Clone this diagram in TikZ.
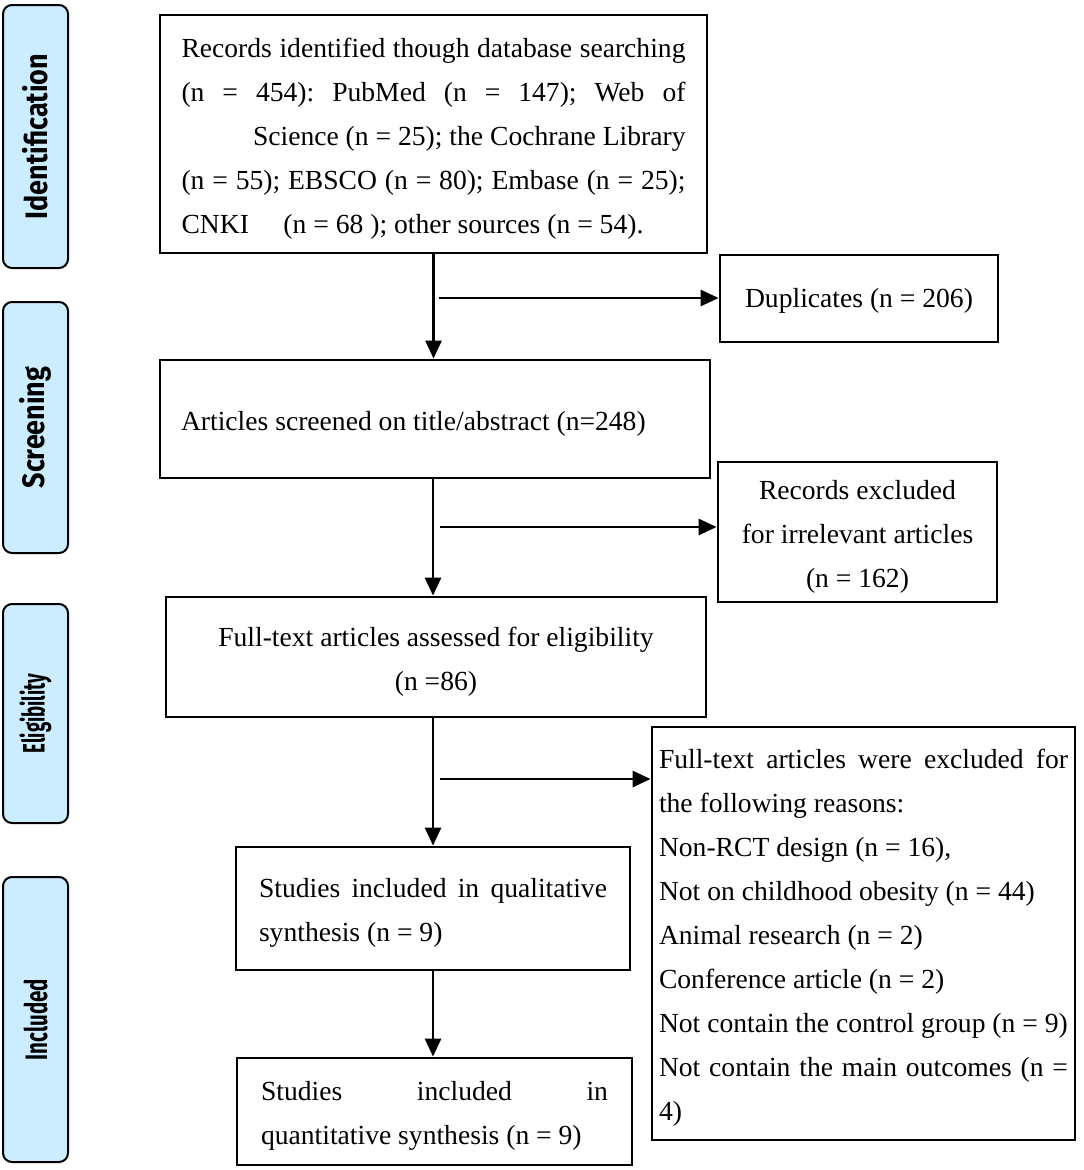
\documentclass[tikz,border=0pt]{standalone}
\usepackage{fontspec}
\setmainfont{Liberation Serif}
\newfontfamily\sidefont{Fira Sans}
\usetikzlibrary{arrows.meta}
\definecolor{sideblue}{RGB}{204,236,255}
\newcommand{\jl}[1]{\makebox[\linewidth][s]{#1}}
\newcommand{\rl}[1]{\makebox[\linewidth][r]{#1}}
\newcommand{\nb}[1]{\mbox{#1}}
\begin{document}
\begin{tikzpicture}[x=1pt,y=-1pt,
 box/.style={draw, line width=2.8pt, inner sep=0pt},
 txt/.style={inner sep=0pt, font=\fontsize{27.6}{44}\selectfont, yshift=-4.5pt,
   execute at begin node={\spaceskip=0pt\xspaceskip=0pt\frenchspacing}},
 side/.style={draw, line width=2pt, fill=sideblue, rounded corners=9pt, inner sep=0pt},
 sidetext/.style={rotate=90, inner sep=0pt, font=\sidefont\bfseries\fontsize{31}{31}\selectfont},
 arr/.style={line width=2.8pt, -{Triangle[length=18pt,width=16pt]}}
]
\useasboundingbox (0,0) rectangle (1084,1170);
\fill[white] (0,0) rectangle (1084,1170);

% side labels
\node[side, minimum width=65, minimum height=263] (s1) at (35.5,136.5) {};
\node[sidetext] (t1) at (s1.center) {\scalebox{0.87}[1]{Identification}};
\node[side, minimum width=65, minimum height=251] (s2) at (35.5,427.5) {};
\node[sidetext] (t2) at (s2.center) {\scalebox{0.87}[1]{Screening}};
\node[side, minimum width=65, minimum height=219] (s3) at (35.5,713.5) {};
\node[sidetext] (t3) at (s3.center) {\scalebox{0.6}[1]{Eligibility}};
\node[side, minimum width=65, minimum height=285] (s4) at (35.5,1019.5) {};
\node[sidetext] (t4) at (s4.center) {\scalebox{0.66}[1]{Included}};

% boxes
\node[box, minimum width=547, minimum height=238] (b1) at (433.5,134) {};
\node[txt, text width=504, align=justify] (b1t) at (b1.center)
 {\jl{Records identified though database searching}\\
  \jl{(n = 454): PubMed (n = 147); Web of}\\
  \rl{Science (n = 25); the Cochrane Library}\\
  \jl{(n = 55); EBSCO (n = 80); Embase (n = 25);}\\
  \nb{CNKI\hspace{1.25em}(n = 68 ); other sources (n = 54).}};
\node[box, minimum width=278, minimum height=87] (dup) at (859,298.5) {};
\node[txt, yshift=2pt] (dupt) at (dup.center) {Duplicates (n = 206)};
\node[box, minimum width=550, minimum height=118] (b2) at (435,419) {};
\node[txt, text width=508, align=justify] (b2t) at (b2.center)
 {\nb{Articles screened on title/abstract (n=248)}};
\node[box, minimum width=279, minimum height=140] (rex) at (857.5,532) {};
\node[txt, align=center] (rext) at (rex.center)
 {Records excluded\\for irrelevant articles\\(n = 162)};
\node[box, minimum width=540, minimum height=120] (b3) at (436,657) {};
\node[txt, align=center] (b3t) at (b3.center)
 {Full-text articles assessed for eligibility\\(n =86)};
\node[box, minimum width=423, minimum height=413] (fex) at (863.5,933.5) {};
\node[txt, text width=409, align=justify] (fext) at (fex.center)
 {\jl{Full-text articles were excluded for}\\
  \nb{the following reasons:}\\
  \nb{Non-RCT design (n = 16),}\\
  \nb{Not on childhood obesity (n = 44)}\\
  \nb{Animal research (n = 2)}\\
  \nb{Conference article (n = 2)}\\
  \nb{Not contain the control group (n = 9)}\\
  \jl{Not contain the main outcomes (n =}\\
  4)};
\node[box, minimum width=394, minimum height=123] (q1) at (433,908.5) {};
\node[txt, text width=348, align=justify] (q1t) at (q1.center)
 {\jl{Studies included in qualitative}\\\nb{synthesis (n = 9)}};
\node[box, minimum width=395, minimum height=107] (q2) at (434.5,1111.5) {};
\node[txt, text width=347, align=justify] (q2t) at (q2.center)
 {\jl{Studies included in}\\\nb{quantitative synthesis (n = 9)}};

% arrows
\draw[arr] (b1.south) -- (b1.south |- b2.north);
\coordinate (h1) at (439,298);
\draw[arr] (h1) -- (h1 -| dup.west);
\draw[arr] (b2.south -| q1.north) -- (b3.north -| q1.north);
\coordinate (h2) at (440,527);
\draw[arr] (h2) -- (h2 -| rex.west);
\draw[arr] (b3.south -| q1.north) -- (q1.north);
\coordinate (h3) at (440,779);
\draw[arr] (h3) -- (h3 -| fex.west);
\draw[arr] (q1.south) -- (q1.south |- q2.north);
\end{tikzpicture}
\end{document}
